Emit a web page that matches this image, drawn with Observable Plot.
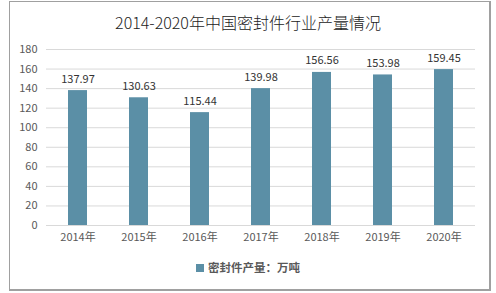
<!DOCTYPE html>
<html><head><meta charset="utf-8">
<script src="https://cdn.jsdelivr.net/npm/d3@7"></script>
<script src="https://cdn.jsdelivr.net/npm/@observablehq/plot@0.6"></script>
<style>
html,body{margin:0;padding:0;background:#fff;width:496px;height:293px;overflow:hidden;font-family:"Noto Sans CJK SC","Noto Sans",sans-serif;}
#frame{position:absolute;left:9px;top:1px;width:479px;height:287px;border:1px solid #a0a0a0;border-right-width:2px;border-bottom-width:2px;}
#title{position:absolute;left:0;top:0;width:496px;height:38px;line-height:44px;text-align:center;font-size:16px;font-weight:300;color:#222;}
#chart{position:absolute;left:0;top:38px;}
#legend{position:absolute;left:0;top:259px;width:496px;text-align:center;font-size:11.5px;color:#595959;font-weight:bold;}
#legend span.sw{display:inline-block;width:8px;height:8px;background:#5b8fa6;margin-right:4px;vertical-align:0px;}
</style></head>
<body>
<div id="frame"></div>
<div id="title">2014-2020年中国密封件行业产量情况</div>
<div id="chart"></div>
<div id="legend"><span class="sw"></span>密封件产量：万吨</div>
<script>
const years = ["2014年","2015年","2016年","2017年","2018年","2019年","2020年"];
const output = [137.97,130.63,115.44,139.98,156.56,153.98,159.45];
const yTicks = [0,20,40,60,80,100,120,140,160,180];

const data = years.map((y,i)=>({year:y, value:output[i]}));
const chart = Plot.plot({
  width:496, height:215,
  marginLeft:46, marginRight:21, marginTop:11, marginBottom:28,
  style:{fontFamily:'"Noto Sans CJK SC","Noto Sans",sans-serif', fontSize:"11px", color:"#595959", background:"transparent"},
  x:{domain:years, paddingInner:0.69, paddingOuter:0.345, label:null, tickSize:0, tickPadding:8},
  y:{domain:[0,180], ticks:yTicks, label:null, tickSize:0, tickPadding:9},
  marks:[
    Plot.ruleY(yTicks,{stroke:"#d9d9d9", strokeWidth:1}),
    Plot.barY(data,{x:"year", y:"value", fill:"#5b8fa6"}),
    Plot.text(data,{x:"year", y:"value", text:d=>d.value.toFixed(2), dy:-8, lineAnchor:"bottom", fill:"#333333", fontSize:11})
  ]
});
document.getElementById("chart").appendChild(chart);
</script>
</body></html>
